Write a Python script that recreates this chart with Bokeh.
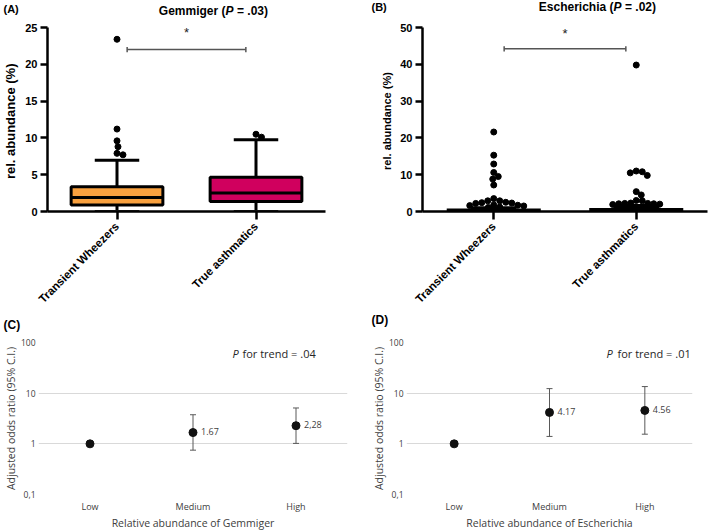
import math
from bokeh.plotting import figure
from bokeh.layouts import column, row
from bokeh.models import Range1d, FixedTicker, Label, Whisker, ColumnDataSource, TeeHead
from bokeh.core.properties import value
from bokeh.embed import file_html
from bokeh.resources import INLINE

# ---------------- data ----------------
groups = ["Transient Wheezers", "True asthmatics"]

# Panel A: Gemmiger relative abundance (box plot stats, %)
gem_q1 = [0.9, 1.35]
gem_med = [1.9, 2.5]
gem_q3 = [3.35, 4.65]
gem_wlo = [0.1, 0.1]
gem_whi = [6.95, 9.75]
gem_out_tw = [23.4, 11.2, 9.6, 8.8, 7.9, 7.7]
gem_out_ta = [10.5, 10.1]
box_colors = ["#F9A13F", "#D0005E"]

# Panel B: Escherichia relative abundance (individual values, %)
esc_tw = [21.6, 15.3, 12.9, 10.6, 9.5, 8.8, 7.2, 3.5, 2.9, 2.9, 2.5, 2.4, 2.3,
          2.2, 1.8, 1.7, 1.6, 1.5, 1.2, 1.1]
esc_ta = [39.8, 11.0, 10.8, 10.5, 9.8, 5.4, 4.5, 3.0, 2.9, 2.3, 2.2, 2.2, 2.1,
          2.1, 2.0, 1.9]
esc_q1 = [0.05, 0.1]
esc_med = [0.3, 0.4]
esc_q3 = [0.85, 1.5]

# Panels C/D: adjusted odds ratios
or_levels = ["Low", "Medium", "High"]
gem_or = [1.0, 1.67, 2.28]
gem_lo = [None, 0.75, 1.02]
gem_hi = [None, 3.75, 5.1]
gem_or_txt = ["", "1.67", "2,28"]
esc_or = [1.0, 4.17, 4.56]
esc_lo = [None, 1.4, 1.55]
esc_hi = [None, 12.3, 13.5]
esc_or_txt = ["", "4.17", "4.56"]
or_ticks = [0.1, 1, 10, 100]
or_tick_labels = ["0,1", "1", "10", "100"]

BOLD_FONT = "Liberation Sans"
SOFT_FONT = "Open Sans"
W = 709


def swarm(vals, ppu_y, ppu_x, diam):
    """simple beeswarm: returns x offsets (data units) for each value"""
    placed = []
    offs = []
    steps = [0.0]
    for k in range(1, 200):
        steps += [k * 0.5, -k * 0.5]
    for v in vals:
        y = v * ppu_y
        for c in steps:
            if all((c - px) ** 2 + (y - py) ** 2 >= diam ** 2 for px, py in placed):
                placed.append((c, y))
                offs.append(c / ppu_x)
                break
    return offs


def header(height):
    h = figure(width=W, height=height, x_range=Range1d(0, W), y_range=Range1d(height, 0),
               x_axis_location=None, y_axis_location=None, min_border=0,
               output_backend="svg", toolbar_location=None)
    h.outline_line_color = None
    h.xgrid.visible = False
    h.ygrid.visible = False
    return h


def hlabel(h, x, y, text, size, style="bold", align="left"):
    h.add_layout(Label(x=x, y=y, text=text, text_font=BOLD_FONT, text_font_style=style,
                       text_font_size=size, text_align=align, text_baseline="middle",
                       text_color="black"))


def style_top(p, ylab, ylab_size, xs):
    p.outline_line_color = None
    p.grid.grid_line_color = None
    for ax in (p.xaxis[0], p.yaxis[0]):
        ax.axis_line_width = 2.5
        ax.axis_line_color = "black"
        ax.major_tick_line_width = 2.5
        ax.major_tick_line_color = "black"
        ax.major_tick_in = 0
        ax.minor_tick_line_color = None
        ax.major_label_text_font = BOLD_FONT
        ax.major_label_text_font_style = "bold"
        ax.major_label_text_color = "black"
    p.yaxis.major_tick_out = 7
    p.xaxis.major_tick_out = 8
    p.yaxis.major_label_text_font_size = "11px"
    p.yaxis.major_label_standoff = 3
    p.xaxis.major_label_text_font_size = "11.5px"
    p.xaxis.major_label_orientation = math.pi / 4
    p.xaxis.major_label_standoff = 5
    p.xaxis.ticker = FixedTicker(ticks=xs)
    p.xaxis.major_label_overrides = dict(zip(xs, groups))
    p.yaxis.axis_label = ylab
    p.yaxis.axis_label_text_font = BOLD_FONT
    p.yaxis.axis_label_text_font_style = "bold"
    p.yaxis.axis_label_text_font_size = ylab_size
    p.yaxis.axis_label_standoff = 4
    p.yaxis.axis_label_text_color = "black"


def add_bracket(p, xs, y, tick, star_y):
    x0 = xs[0] + 0.073
    x1 = xs[1] - 0.073
    p.segment(x0=[x0, x0, x1], x1=[x1, x0, x1], y0=[y, y - tick, y - tick],
              y1=[y, y + tick, y + tick], line_color="#555555", line_width=1.5)
    p.text(x=[(xs[0] + xs[1]) / 2], y=[star_y], text=["*"], text_align="center",
           text_baseline="middle", text_font=value(BOLD_FONT), text_font_size="13px",
           text_color="#222222")


xs = [i + 0.5 for i in range(len(groups))]

# ---------------- header of top row (panel letters + titles) ----------------
H1 = 18
h1 = header(H1)
hlabel(h1, 3, 8, "(A)", "11px")
hlabel(h1, 225, 10.5, "Gemmiger (", "12px", align="right")
hlabel(h1, 225, 10.5, "P", "12px", style="bold italic")
hlabel(h1, 236.5, 10.5, "= .03)", "12px")
hlabel(h1, 371, 6, "(B)", "11px")
hlabel(h1, 613, 6.5, "Escherichia (", "12px", align="right")
hlabel(h1, 613, 6.5, "P", "12px", style="bold italic")
hlabel(h1, 624.5, 6.5, "= .02)", "12px")

TOP_H = 294

# ---------------- Panel A ----------------
pa = figure(width=354, height=TOP_H, x_range=Range1d(0, len(groups)), y_range=Range1d(0, 25),
            output_backend="svg", toolbar_location=None,
            min_border_left=46, min_border_right=29, min_border_top=9, min_border_bottom=100)
style_top(pa, "rel. abundance  (%)", "13px", xs)
pa.yaxis.ticker = FixedTicker(ticks=[0, 5, 10, 15, 20, 25])

box_w, cap_w, lw = 0.66, 0.32, 3
pa.vbar(x=xs, width=box_w, bottom=gem_q1, top=gem_q3, fill_color=box_colors,
        line_color="black", line_width=lw)
pa.segment(x0=[x - box_w / 2 for x in xs], x1=[x + box_w / 2 for x in xs],
           y0=gem_med, y1=gem_med, line_color="black", line_width=lw)
pa.segment(x0=xs, x1=xs, y0=gem_q3, y1=gem_whi, line_color="black", line_width=lw)
pa.segment(x0=xs, x1=xs, y0=gem_q1, y1=gem_wlo, line_color="black", line_width=lw)
pa.segment(x0=[x - cap_w / 2 for x in xs], x1=[x + cap_w / 2 for x in xs],
           y0=gem_whi, y1=gem_whi, line_color="black", line_width=lw)
pa.segment(x0=[x - cap_w / 2 for x in xs], x1=[x + cap_w / 2 for x in xs],
           y0=gem_wlo, y1=gem_wlo, line_color="#333333", line_width=1.5)
for x, outs in zip(xs, [gem_out_tw, gem_out_ta]):
    offs = swarm(outs, 185 / 25, 139.5, 6)
    pa.scatter(x=[x + o for o in offs], y=outs, size=6, color="black")
add_bracket(pa, xs, 22.0, 0.35, 24.3)

# ---------------- Panel B ----------------
pb = figure(width=355, height=TOP_H, x_range=Range1d(0, len(groups)), y_range=Range1d(0, 50),
            output_backend="svg", toolbar_location=None,
            min_border_left=68, min_border_right=2, min_border_top=4, min_border_bottom=101)
style_top(pb, "rel. abundance  (%)", "11px", xs)
pb.yaxis.ticker = FixedTicker(ticks=[0, 10, 20, 30, 40, 50])
for x, pts in zip(xs, [esc_tw, esc_ta]):
    offs = swarm(pts, 189 / 50, 142.5, 6)
    pb.scatter(x=[x + o for o in offs], y=pts, size=6, color="black")
pb.segment(x0=[x - box_w / 2 for x in xs], x1=[x + box_w / 2 for x in xs],
           y0=esc_med, y1=esc_med, line_color="black", line_width=4)
pb.segment(x0=xs, x1=xs, y0=esc_q1, y1=esc_q3, line_color="black", line_width=3)
pb.segment(x0=[x - cap_w / 2 for x in xs], x1=[x + cap_w / 2 for x in xs],
           y0=esc_q3, y1=esc_q3, line_color="black", line_width=4)
add_bracket(pb, xs, 44.2, 0.7, 48.5)

# ---------------- header of bottom row (panel letters) ----------------
H2 = 20
h2 = header(H2)
hlabel(h2, 3, 12, "(C)", "12px")
hlabel(h2, 371, 7, "(D)", "12px")

BOT_H = 532 - H1 - TOP_H - H2


# ---------------- Panels C / D ----------------
def bottom_panel(width, left, right, ors, lo, hi, txt, xtitle, pval, p_dx, gap):
    xl = [i + 0.5 for i in range(len(or_levels))]
    p = figure(width=width, height=BOT_H, x_range=Range1d(0, len(or_levels)),
               y_range=Range1d(0.1, 100), y_axis_type="log",
               output_backend="svg", toolbar_location=None,
               min_border_left=left, min_border_right=right, min_border_top=10,
               min_border_bottom=32)
    p.outline_line_color = None
    p.xgrid.grid_line_color = None
    p.ygrid.grid_line_color = "#d9d9d9"
    p.ygrid.grid_line_width = 1.2
    p.yaxis.ticker = FixedTicker(ticks=or_ticks)
    p.yaxis.major_label_overrides = dict(zip(or_ticks, or_tick_labels))
    p.xaxis.ticker = FixedTicker(ticks=xl)
    p.xaxis.major_label_overrides = dict(zip(xl, or_levels))
    for ax in (p.xaxis[0], p.yaxis[0]):
        ax.axis_line_color = None
        ax.major_tick_line_color = None
        ax.minor_tick_line_color = None
        ax.major_tick_out = 0
        ax.major_label_text_font = SOFT_FONT
        ax.major_label_text_color = "#404040"
        ax.axis_label_text_font = SOFT_FONT
        ax.axis_label_text_font_style = "normal"
        ax.axis_label_text_color = "#404040"
    p.yaxis.major_label_text_font_size = "8.5px"
    p.xaxis.major_label_text_font_size = "9px"
    p.yaxis.major_label_standoff = 3
    p.xaxis.major_label_standoff = 5
    p.yaxis.axis_label = "Adjusted odds ratio (95% C.I.)"
    p.yaxis.axis_label_text_font_size = "10.5px"
    p.yaxis.axis_label_standoff = 0
    p.xaxis.axis_label = xtitle
    p.xaxis.axis_label_text_font_size = "10.5px"
    p.xaxis.axis_label_standoff = 0

    rows = [(x, l, h) for x, l, h in zip(xl, lo, hi) if l is not None]
    src = ColumnDataSource(dict(x=[r[0] for r in rows], lower=[r[1] for r in rows],
                                upper=[r[2] for r in rows]))
    head = dict(size=6, line_color="#595959", line_width=1)
    p.add_layout(Whisker(source=src, base="x", lower="lower", upper="upper",
                         dimension="height", line_color="#595959", line_width=1,
                         upper_head=TeeHead(**head), lower_head=TeeHead(**head)))
    p.scatter(x=xl, y=ors, size=8, color="#111111")
    tx = [(x, y, t) for x, y, t in zip(xl, ors, txt) if t]
    p.text(x=[t[0] for t in tx], y=[t[1] for t in tx], text=[t[2] for t in tx],
           x_offset=8, y_offset=-1, text_baseline="middle", text_align="left",
           text_font=value(SOFT_FONT), text_font_size="9px", text_color="#404040")
    p.add_layout(Label(x=0, y=100, x_offset=p_dx, y_offset=-11, text="P",
                       text_font=SOFT_FONT, text_font_style="italic", text_font_size="11px",
                       text_baseline="middle", text_color="#262626"))
    p.add_layout(Label(x=0, y=100, x_offset=p_dx + gap, y_offset=-11,
                       text="for trend = " + pval,
                       text_font=SOFT_FONT, text_font_size="11px",
                       text_baseline="middle", text_color="#262626"))
    return p


pc = bottom_panel(354, 33, 7, gem_or, gem_lo, gem_hi, gem_or_txt,
                  "Relative abundance of Gemmiger", ".04", 194, 10)
pd_ = bottom_panel(355, 52, 17, esc_or, esc_lo, esc_hi, esc_or_txt,
                   "Relative abundance of Escherichia", ".01", 200, 11)

layout = column(h1, row(pa, pb), h2, row(pc, pd_))
open("out.html", "w").write(file_html(layout, INLINE))
